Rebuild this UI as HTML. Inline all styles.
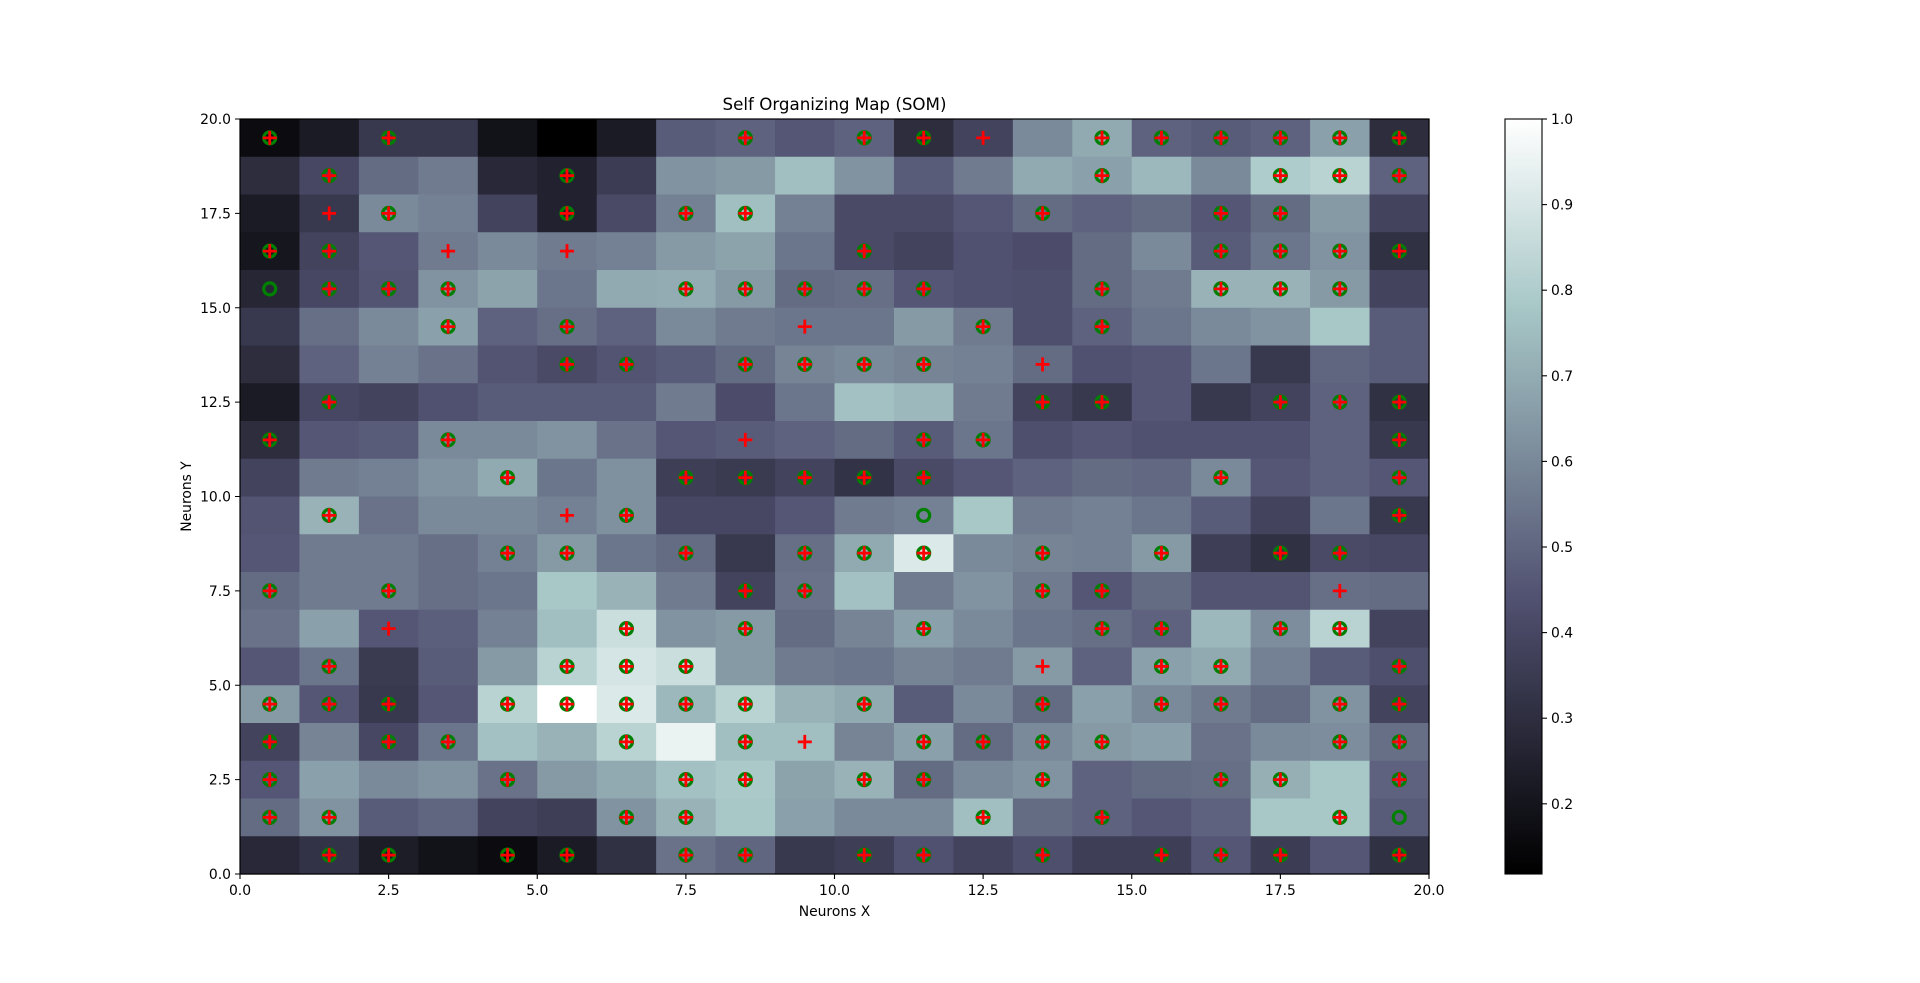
<!DOCTYPE html>
<html><head><meta charset="utf-8"><style>
html,body{margin:0;padding:0;background:#fff;width:1920px;height:983px;overflow:hidden}
svg text{font-family:"DejaVu Sans","Liberation Sans",sans-serif;fill:#000}
</style></head><body>
<svg id="s" width="1920" height="983" xmlns="http://www.w3.org/2000/svg">
<defs><linearGradient id="cb" x1="0" y1="1" x2="0" y2="0">
<stop offset="0" stop-color="rgb(0,0,0)"/><stop offset="0.365" stop-color="rgb(81,81,113)"/>
<stop offset="0.746" stop-color="rgb(166,198,198)"/><stop offset="1" stop-color="rgb(255,255,255)"/></linearGradient></defs>
<g id="cells"></g><g id="marks"></g>
<rect x="240" y="119" width="1189" height="755" fill="none" stroke="#000" stroke-width="1.2"/>
<g id="ticks" stroke="#000" stroke-width="1.1"></g>
<g font-size="13.9" text-anchor="middle">
<text x="240" y="895">0.0</text><text x="388.6" y="895">2.5</text><text x="537.3" y="895">5.0</text><text x="685.9" y="895">7.5</text><text x="834.5" y="895">10.0</text><text x="983.1" y="895">12.5</text><text x="1131.8" y="895">15.0</text><text x="1280.4" y="895">17.5</text><text x="1429" y="895">20.0</text>
</g>
<g font-size="13.9" text-anchor="end">
<text x="231" y="879">0.0</text><text x="231" y="784.6">2.5</text><text x="231" y="690.3">5.0</text><text x="231" y="595.9">7.5</text><text x="231" y="501.5">10.0</text><text x="231" y="407.1">12.5</text><text x="231" y="312.8">15.0</text><text x="231" y="218.4">17.5</text><text x="231" y="124">20.0</text>
</g>
<text x="834.5" y="916" font-size="13.9" text-anchor="middle">Neurons X</text>
<text x="191" y="496.5" font-size="13.9" text-anchor="middle" transform="rotate(-90 191 496.5)">Neurons Y</text>
<text x="834.5" y="110" font-size="16.7" text-anchor="middle">Self Organizing Map (SOM)</text>
<rect x="1505" y="119" width="37" height="755" fill="url(#cb)"/>
<rect x="1505" y="119" width="37" height="755" fill="none" stroke="#000" stroke-width="1.1"/>
<g id="cbt" stroke="#000" stroke-width="1.1"></g>
<g font-size="13.9" id="cbl"></g>
</svg>
<script>
var V=[
[0.05,0.12,0.25,0.25,0.08,0.0,0.12,0.4,0.42,0.38,0.42,0.2,0.3,0.55,0.65,0.42,0.4,0.42,0.62,0.2],
[0.2,0.32,0.45,0.5,0.18,0.15,0.27,0.58,0.6,0.72,0.58,0.4,0.5,0.65,0.62,0.7,0.55,0.77,0.8,0.42],
[0.12,0.25,0.55,0.52,0.3,0.15,0.33,0.52,0.72,0.52,0.33,0.33,0.38,0.45,0.42,0.45,0.38,0.45,0.6,0.3],
[0.1,0.3,0.38,0.5,0.55,0.5,0.52,0.6,0.63,0.48,0.33,0.3,0.36,0.34,0.45,0.55,0.4,0.48,0.58,0.22],
[0.17,0.32,0.37,0.58,0.63,0.48,0.65,0.66,0.6,0.45,0.46,0.38,0.36,0.35,0.45,0.5,0.68,0.68,0.6,0.3],
[0.25,0.46,0.55,0.62,0.42,0.46,0.42,0.55,0.5,0.48,0.48,0.6,0.5,0.35,0.42,0.48,0.55,0.58,0.75,0.4],
[0.2,0.42,0.52,0.47,0.37,0.33,0.37,0.4,0.45,0.53,0.55,0.53,0.52,0.45,0.36,0.38,0.48,0.25,0.43,0.4],
[0.12,0.32,0.3,0.36,0.4,0.4,0.4,0.5,0.34,0.48,0.73,0.7,0.5,0.3,0.25,0.38,0.25,0.3,0.42,0.22],
[0.2,0.38,0.4,0.55,0.55,0.58,0.47,0.38,0.4,0.42,0.45,0.4,0.48,0.35,0.38,0.36,0.36,0.36,0.42,0.25],
[0.3,0.5,0.52,0.58,0.65,0.48,0.57,0.28,0.26,0.3,0.23,0.33,0.38,0.42,0.45,0.44,0.55,0.38,0.42,0.38],
[0.37,0.68,0.47,0.55,0.55,0.52,0.57,0.32,0.32,0.38,0.5,0.52,0.75,0.5,0.52,0.48,0.4,0.3,0.48,0.25],
[0.38,0.5,0.5,0.46,0.52,0.6,0.48,0.45,0.25,0.46,0.65,0.9,0.55,0.53,0.52,0.6,0.28,0.22,0.33,0.32],
[0.45,0.5,0.5,0.46,0.48,0.75,0.68,0.5,0.3,0.47,0.73,0.5,0.58,0.5,0.38,0.45,0.37,0.37,0.46,0.45],
[0.47,0.62,0.38,0.41,0.52,0.72,0.85,0.58,0.6,0.45,0.53,0.62,0.55,0.48,0.46,0.42,0.7,0.56,0.8,0.3],
[0.38,0.48,0.26,0.4,0.6,0.8,0.88,0.85,0.6,0.5,0.48,0.53,0.5,0.6,0.42,0.62,0.65,0.52,0.4,0.35],
[0.6,0.38,0.25,0.38,0.8,1.0,0.9,0.7,0.8,0.68,0.65,0.4,0.55,0.45,0.62,0.55,0.5,0.45,0.58,0.3],
[0.3,0.53,0.32,0.48,0.73,0.68,0.8,0.94,0.72,0.72,0.53,0.62,0.45,0.55,0.6,0.62,0.47,0.55,0.56,0.46],
[0.38,0.62,0.55,0.58,0.47,0.6,0.65,0.73,0.76,0.63,0.68,0.45,0.55,0.58,0.42,0.45,0.46,0.67,0.75,0.42],
[0.45,0.58,0.4,0.43,0.3,0.28,0.58,0.68,0.75,0.62,0.55,0.55,0.72,0.45,0.42,0.38,0.42,0.75,0.75,0.4],
[0.18,0.23,0.13,0.08,0.05,0.12,0.22,0.47,0.43,0.25,0.28,0.36,0.3,0.35,0.28,0.28,0.38,0.27,0.38,0.22]];
var M=["B.B.....B.BBP.BBBBBB",".B...B........B..BBB",".PB..B.BB....B..BB..","BB.P.P....B.....BBBB","OBBB...BBBBB..B.BBB.",
"...B.B...P..B.B.....",".....BB.BBBB.P......",".B...........BB..BBB","B..B....P..BB......B","....B..BBBBB....B..B",
".B...PB....O.......B","....BB.B.BBB.B.B.BB.","B.B.....BB...BB...P.","..P...B.B..B..BB.BB.",".B...BBB.....P.BB..B",
"BBB.BBBBB.B..B.BB.BB","B.BB..B.BP.BBBB...BB","B...B..BB.BB.B..BB.B","BB....BB....B.B...BO",".BB.BB.BB.BB.B.BBB.B"];
function bone(t){function L(p){for(var i=1;i<p.length;i++){if(t<=p[i][0]){var a=p[i-1],b=p[i];return a[1]+(b[1]-a[1])*(t-a[0])/(b[0]-a[0]);}}return 1;}
var r=L([[0,0],[0.746032,0.652778],[1,1]]),g=L([[0,0],[0.365079,0.319444],[0.746032,0.777778],[1,1]]),b=L([[0,0],[0.365079,0.444444],[1,1]]);
return "rgb("+Math.round(r*255)+","+Math.round(g*255)+","+Math.round(b*255)+")";}
var X0=240,Y0=119,W=1189,H=755,cw=W/20,ch=H/20,c="",m="";
for(var r=0;r<20;r++)for(var k=0;k<20;k++){
c+='<rect x="'+(X0+k*cw)+'" y="'+(Y0+r*ch)+'" width="'+(cw+0.6)+'" height="'+(ch+0.6)+'" fill="'+bone(V[r][k])+'"/>';
var s=M[r][k],cx=X0+(k+0.5)*cw,cy=Y0+(r+0.5)*ch;
if(s=="B"||s=="O")m+='<circle cx="'+cx+'" cy="'+cy+'" r="6" fill="none" stroke="#008000" stroke-width="3.2"/>';
if(s=="B"||s=="P")m+='<path d="M'+(cx-7)+' '+cy+'H'+(cx+7)+'M'+cx+' '+(cy-7)+'V'+(cy+7)+'" stroke="#ff0000" stroke-width="2.8"/>';}
document.getElementById("cells").innerHTML=c;document.getElementById("marks").innerHTML=m;
var t="";for(var i=0;i<=8;i++){var x=X0+i*W/8,y=Y0+H-i*H/8;t+='<path d="M'+x+' 874V879M240 '+y+'H235"/>';}
document.getElementById("ticks").innerHTML=t;
var ct="",cl="";for(var v=2;v<=10;v++){var y=874-(v/10-0.118)/0.882*755;ct+='<path d="M1542 '+y+'H1547"/>';cl+='<text x="1551" y="'+(y+5)+'">'+(v/10).toFixed(1)+'</text>';}
document.getElementById("cbt").innerHTML=ct;document.getElementById("cbl").innerHTML=cl;
</script>
</body></html>
